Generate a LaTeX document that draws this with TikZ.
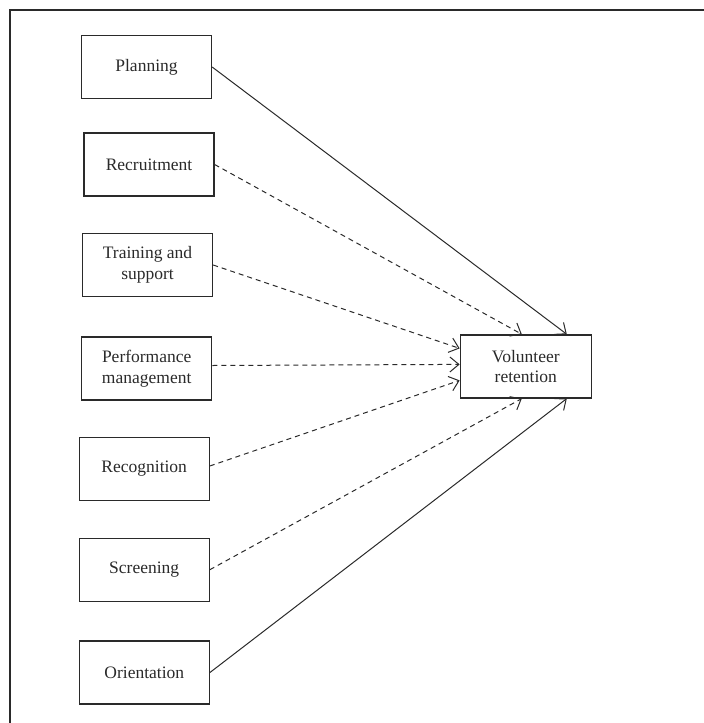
\documentclass[tikz,border=0pt]{standalone}
\usepackage{fontspec}
\setmainfont{Liberation Serif}
\usetikzlibrary{arrows.meta}
\definecolor{ink}{HTML}{2A2A2A}
\begin{document}
\begin{tikzpicture}[x=1pt,y=-1pt,
  factor/.style={draw=ink, line width=1.3pt, minimum width=130pt, minimum height=63pt,
    inner sep=0pt, align=center, text=ink, font=\fontsize{17.5}{20.5}\selectfont},
  link/.style={draw=ink, line width=1pt, -{Straight Barb[length=9pt,width=15pt,line width=1pt]}},
  weak/.style={link, dash pattern=on 5pt off 4pt}]
  \useasboundingbox (0,0) rectangle (704,723);
  % open frame round the model
  \draw[ink, line width=1.4pt] (10,723) -- (10,10) -- (704,10);

  % HR practices
  \node[factor] (plan)   at (146.5,67)    {Planning};
  \node[factor] (recr)   at (149,164.5)   {Recruitment};
  \node[factor] (train)  at (147.5,265)   {Training and\\support};
  \node[factor] (perf)   at (146.7,368.5) {Performance\\management};
  \node[factor] (recog)  at (144.2,469)   {Recognition};
  \node[factor] (screen) at (144.2,569.7) {Screening};
  \node[factor] (orient) at (144.3,672.5) {Orientation};

  % outcome
  \node[factor, minimum width=131pt] (vol) at (525.8,366.4) {Volunteer\\retention};

  % effects: solid = supported, dashed = not supported
  \draw[link] (plan.east)   -- ([xshift=41pt]vol.north);
  \draw[weak] (recr.east)   -- ([xshift=-4pt]vol.north);
  \draw[weak] (train.east)  -- ([yshift=18pt]vol.west);
  \draw[weak] ([yshift=3pt]perf.east) -- ([yshift=2pt]vol.west);
  \draw[weak] ([yshift=3pt]recog.east) -- ([yshift=-14pt]vol.west);
  \draw[weak] (screen.east) -- ([xshift=-4pt]vol.south);
  \draw[link] (orient.east) -- ([xshift=41pt]vol.south);
\end{tikzpicture}
\end{document}
